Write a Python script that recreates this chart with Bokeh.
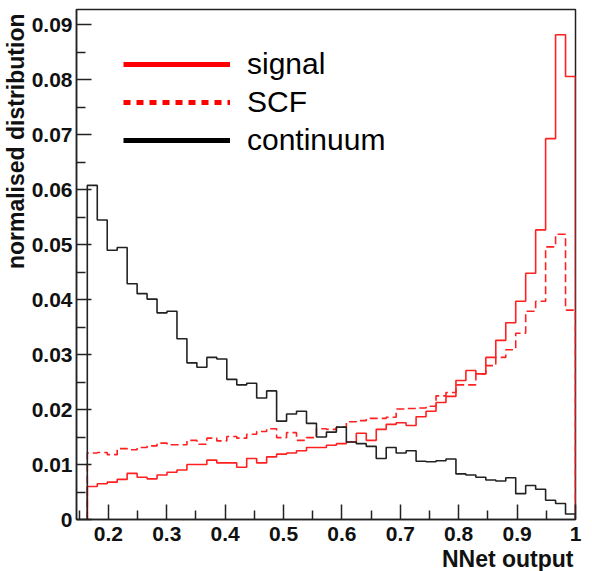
import numpy as np
from bokeh.plotting import figure
from bokeh.models import (Range1d, FixedTicker, Legend, LegendItem, Title)
from bokeh.embed import file_html
from bokeh.resources import INLINE

# ---- data -------------------------------------------------------------
x_lo = 0.164          # lower edge of first bin
x_hi = 1.0            # upper edge of last bin
n_bins = 49

signal = [0.0060, 0.0065, 0.0068, 0.0073, 0.0084, 0.0077, 0.0074, 0.0081, 0.0086, 0.0090,
          0.0100, 0.0100, 0.0108, 0.0103, 0.0103, 0.0095, 0.0111, 0.0103, 0.0114, 0.0119,
          0.0121, 0.0125, 0.0131, 0.0131, 0.0135, 0.0138, 0.0141, 0.0157, 0.0144, 0.0164,
          0.0173, 0.0176, 0.0171, 0.0187, 0.0197, 0.0213, 0.0224, 0.0253, 0.0271, 0.0265,
          0.0295, 0.0326, 0.0358, 0.0397, 0.0448, 0.0527, 0.0693, 0.0882, 0.0806]

scf = [0.0121, 0.0122, 0.0118, 0.0129, 0.0127, 0.0131, 0.0134, 0.0139, 0.0136, 0.0136,
       0.0144, 0.0137, 0.0148, 0.0143, 0.0151, 0.0148, 0.0155, 0.0160, 0.0165, 0.0149,
       0.0158, 0.0144, 0.0149, 0.0165, 0.0164, 0.0168, 0.0178, 0.0180, 0.0184, 0.0184,
       0.0186, 0.0201, 0.0202, 0.0203, 0.0206, 0.0225, 0.0231, 0.0245, 0.0245, 0.0265,
       0.0280, 0.0295, 0.0309, 0.0339, 0.0379, 0.0397, 0.0496, 0.0519, 0.0381]

continuum = [0.0608, 0.0545, 0.0490, 0.0495, 0.0429, 0.0411, 0.0401, 0.0376, 0.0379, 0.0329,
             0.0285, 0.0277, 0.0295, 0.0292, 0.0255, 0.0245, 0.0248, 0.0221, 0.0234, 0.0179,
             0.0192, 0.0197, 0.0175, 0.0150, 0.0159, 0.0168, 0.0141, 0.0138, 0.0133, 0.0111,
             0.0131, 0.0121, 0.0125, 0.0106, 0.0105, 0.0107, 0.0110, 0.0083, 0.0081, 0.0077,
             0.0072, 0.0070, 0.0076, 0.0047, 0.0062, 0.0055, 0.0035, 0.0029, 0.0010]

x_ticks = [0.2, 0.3, 0.4, 0.5, 0.6, 0.7, 0.8, 0.9, 1.0]
x_tick_labels = ["0.2", "0.3", "0.4", "0.5", "0.6", "0.7", "0.8", "0.9", "1"]
x_minor = [0.15, 0.25, 0.35, 0.45, 0.55, 0.65, 0.75, 0.85, 0.95]
y_ticks = [0.0, 0.01, 0.02, 0.03, 0.04, 0.05, 0.06, 0.07, 0.08, 0.09]
y_tick_labels = ["0", "0.01", "0.02", "0.03", "0.04", "0.05", "0.06", "0.07", "0.08", "0.09"]
y_minor = [0.005, 0.015, 0.025, 0.035, 0.045, 0.055, 0.065, 0.075, 0.085]

series_names = ["signal", "SCF", "continuum"]
x_title = "NNet output"
y_title = "normalised distribution"

# ---- helpers ----------------------------------------------------------
edges = np.linspace(x_lo, x_hi, n_bins + 1)

def outline(vals):
    xs = np.repeat(edges, 2)
    ys = np.concatenate([[0.0], np.repeat(np.asarray(vals), 2), [0.0]])
    return xs, ys

# ---- figure -----------------------------------------------------------
p = figure(width=592, height=571,
           x_range=Range1d(0.1455, 1.0), y_range=Range1d(0.0, 0.0928),
           output_backend="svg", toolbar_location=None,
           min_border_left=76, min_border_right=17,
           min_border_top=9, min_border_bottom=52)
p.grid.visible = False
p.outline_line_color = "#222222"
p.outline_line_width = 1.5
p.background_fill_color = "white"
p.border_fill_color = "white"

sx, sy = outline(signal)
p.line(sx, sy, line_color="#ff2020", line_width=1.6)
fx, fy = outline(scf)
p.line(fx, fy, line_color="#ff2020", line_width=1.6, line_dash="8 4")
cx, cy = outline(continuum)
p.line(cx, cy, line_color="#222222", line_width=1.6)

# axes
tick_font = "Liberation Sans"
for ax, ticks, labels, minor in ((p.xaxis[0], x_ticks, x_tick_labels, x_minor),
                                 (p.yaxis[0], y_ticks, y_tick_labels, y_minor)):
    ax.ticker = FixedTicker(ticks=ticks, minor_ticks=minor)
    ax.major_label_overrides = dict(zip(ticks, labels))
    ax.axis_line_color = "#222222"
    ax.axis_line_width = 1.5
    ax.major_tick_line_color = "#222222"
    ax.major_tick_line_width = 1.5
    ax.minor_tick_line_color = "#222222"
    ax.minor_tick_line_width = 1.5
    ax.major_tick_out = 0
    ax.minor_tick_out = 0
    ax.major_tick_in = 15
    ax.minor_tick_in = 9
    ax.major_label_text_font = tick_font
    ax.major_label_text_font_style = "bold"
    ax.major_label_text_font_size = "21px"
    ax.major_label_text_color = "#111111"

p.xaxis[0].major_label_standoff = 7
p.yaxis[0].major_label_standoff = 4

# axis titles at the axis ends (ROOT style)
p.add_layout(Title(text=x_title, align="right", standoff=0, offset=2,
                   text_font=tick_font, text_font_style="bold",
                   text_font_size="23px", text_color="#111111"), "below")
p.add_layout(Title(text=y_title, align="right", standoff=0, offset=4,
                   text_font=tick_font, text_font_style="bold",
                   text_font_size="23px", text_color="#111111"), "left")

# legend (NaN-only renderers carry the thick legend line styles)
nan = [np.nan]
r_sig = p.line(nan, nan, line_color="#ff0000", line_width=5)
r_scf = p.line(nan, nan, line_color="#ff0000", line_width=5, line_dash="7 6")
r_con = p.line(nan, nan, line_color="#000000", line_width=5)
legend = Legend(items=[LegendItem(label=series_names[0], renderers=[r_sig]),
                       LegendItem(label=series_names[1], renderers=[r_scf]),
                       LegendItem(label=series_names[2], renderers=[r_con])],
                location=(47, 361), padding=0, margin=0, spacing=2,
                glyph_width=107, glyph_height=36, label_height=36,
                label_standoff=17,
                label_text_font=tick_font, label_text_font_size="30px",
                label_text_color="#000000",
                background_fill_alpha=0, border_line_alpha=0)
p.add_layout(legend)

open("out.html", "w").write(file_html(p, INLINE))
